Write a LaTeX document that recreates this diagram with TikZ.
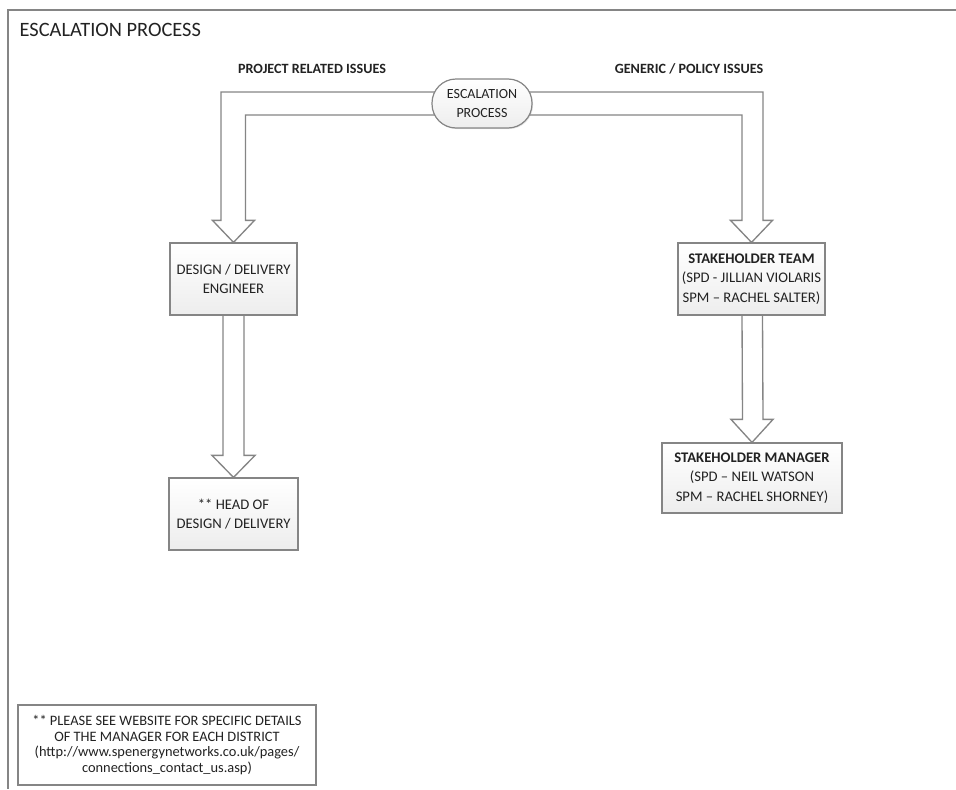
\documentclass[tikz,border=0pt]{standalone}
\usepackage{fontspec}
\setmainfont{Carlito}
\usetikzlibrary{calc,shadows,backgrounds}
\definecolor{linegray}{HTML}{858585}
\definecolor{txt}{HTML}{222222}
\tikzset{
  boxstyle/.style={draw=linegray, line width=0.9pt, top color=white, bottom color=black!7,
    drop shadow={opacity=0.2, shadow xshift=0.8pt, shadow yshift=-0.8pt},
    align=center, inner sep=2pt, text=txt, font=\fontsize{11}{14.6}\selectfont},
  pillstyle/.style={boxstyle, rounded corners=18pt},
  notestyle/.style={draw=linegray, line width=0.9pt, fill=white, align=center, inner sep=2pt,
    text=txt, font=\fontsize{10.8}{11.9}\selectfont},
  barrow/.style={draw=linegray, line width=1pt, fill=white, line join=miter},
  labelstyle/.style={text=txt, font=\fontsize{10.6}{13}\selectfont\bfseries},
  framestyle/.style={draw=linegray, line width=1pt}
}
\begin{document}
\begin{tikzpicture}[x=0.75pt,y=-0.75pt]
\useasboundingbox (0,0) rectangle (956,789);
% frame
\coordinate (ftl) at (8,10);
\coordinate (ftr) at (956,10);
\coordinate (fbl) at (8,789);
\draw[framestyle] (ftr) -- (ftl) -- (fbl);
% title and labels
\node[anchor=west, text=txt, font=\fontsize{15.3}{18}\selectfont] (title) at (15,30) {ESCALATION PROCESS};
\node[labelstyle] (lproj) at (312,69) {PROJECT RELATED ISSUES};
\node[labelstyle] (lgen) at (689,69) {GENERIC / POLICY ISSUES};
% nodes
\node[pillstyle, minimum width=75pt, minimum height=36.75pt, font=\fontsize{10.5}{14.5}\selectfont] (esc) at (482,103.5) {ESCALATION\\PROCESS};
\node[boxstyle, minimum width=95.25pt, minimum height=54pt] (eng) at (233.5,279) {DESIGN / DELIVERY\\ENGINEER};
\node[boxstyle, minimum width=96.75pt, minimum height=54pt] (head) at (233.5,514) {** HEAD OF\\DESIGN / DELIVERY};
\node[boxstyle, minimum width=110.25pt, minimum height=54pt] (team) at (751.5,279) {\textbf{STAKEHOLDER TEAM}\\(SPD - JILLIAN VIOLARIS\\SPM – RACHEL SALTER)};
\node[boxstyle, minimum width=135pt, minimum height=52.5pt] (mgr) at (752,478) {\textbf{STAKEHOLDER MANAGER}\\(SPD – NEIL WATSON\\SPM – RACHEL SHORNEY)};
\node[notestyle, minimum width=223.5pt, minimum height=60pt] (note) at (167,745) {** PLEASE SEE WEBSITE FOR SPECIFIC DETAILS\\OF THE MANAGER FOR EACH DISTRICT\\(http://www.spenergynetworks.co.uk/pages/\\connections\_contact\_us.asp)};
% block arrows
\begin{scope}[on background layer]
\draw[barrow] ($(esc.center)+(0,-11.5)$) -| ($(eng.north)+(-12.5,-22)$) -- ++(-8.5,0) -- (eng.north)
  -- ($(eng.north)+(21,-22)$) -- ++(-9,0) |- ($(esc.center)+(0,11.5)$);
\draw[barrow] ($(esc.center)+(0,-11.5)$) -| ($(team.north)+(11.5,-22)$) -- ++(9.5,0) -- (team.north)
  -- ($(team.north)+(-21,-22)$) -- ++(11.5,0) |- ($(esc.center)+(0,11.5)$);
\draw[barrow] ($(eng.south)+(-10.5,0)$) -- ($(head.north)+(-10.5,-22)$) -- ++(-11,0) -- (head.north)
  -- ($(head.north)+(21.5,-22)$) -- ++(-11,0) -- ($(eng.south)+(10.5,0)$);
\draw[barrow] ($(team.south)+(-9.5,0)$) -- ($(mgr.north)+(-9.5,-23)$) -- ++(-11.5,0) -- (mgr.north)
  -- ($(mgr.north)+(21,-23)$) -- ++(-10,0) -- ($(team.south)+(11,0)$);
\end{scope}
\end{tikzpicture}
\end{document}
